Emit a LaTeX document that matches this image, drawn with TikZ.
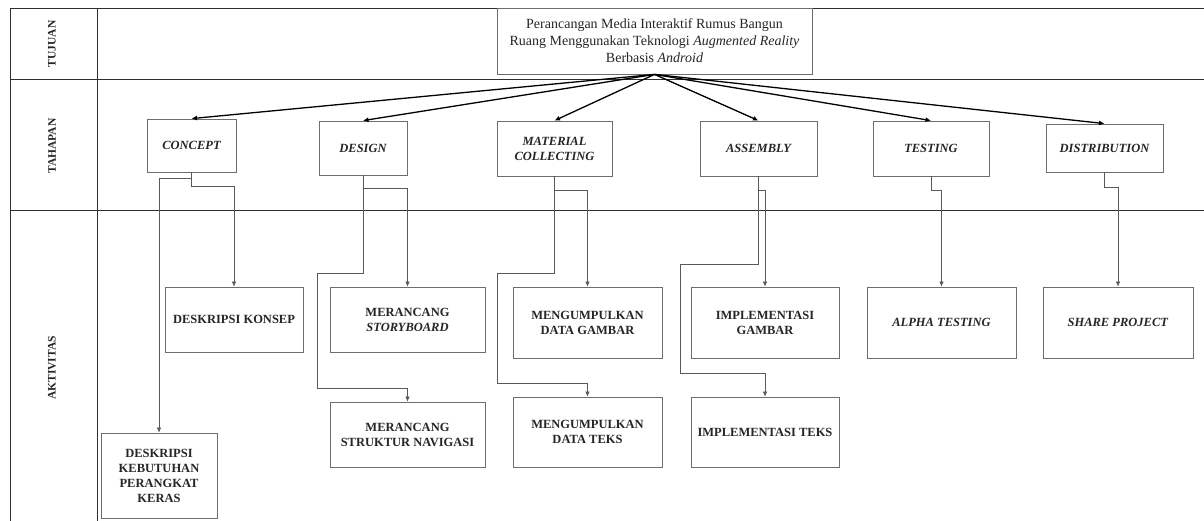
\documentclass[tikz,border=0pt]{standalone}
\usepackage{fontspec}
\setmainfont{Liberation Serif}
\usetikzlibrary{arrows.meta}
\definecolor{boxgray}{HTML}{6E6E6E}
\definecolor{framegray}{HTML}{2E2E2E}
\definecolor{txt}{HTML}{262626}
\begin{document}
\begin{tikzpicture}[x=1pt,y=-1pt,
  box/.style={draw=boxgray, line width=0.8pt, align=center, inner sep=2pt,
    font=\fontsize{12.5}{15}\selectfont\bfseries, text=txt},
  stagebox/.style={box, font=\fontsize{12.5}{15}\selectfont\bfseries\itshape},
  goalbox/.style={box, font=\fontsize{14}{17}\selectfont, text=txt},
  lanelabel/.style={rotate=90, font=\fontsize{11.5}{14}\selectfont\bfseries, text=txt},
  frame/.style={draw=framegray, line width=0.8pt},
  goalarrow/.style={draw=black, line width=1.3pt, -{Latex[length=5.5pt,width=5pt]}},
  conn/.style={draw=black!65, line width=0.6pt, -{Latex[length=5pt,width=4.5pt]}}
]
\useasboundingbox (0,0) rectangle (1204,521);
\fill[white] (0,0) rectangle (1204,521);

% frame
\draw[frame] (1204,8) -- (10,8) -- (10,521);
\draw[frame] (97,8) -- (97,521);
\draw[frame] (10,79) -- (1204,79);
\draw[frame] (10,210) -- (1204,210);

% lane labels
\node[lanelabel] (tujuan) at (52,44) {TUJUAN};
\node[lanelabel] (tahapan) at (52,146) {TAHAPAN};
\node[lanelabel] (aktivitas) at (52,368) {AKTIVITAS};

% goal
\node[goalbox, minimum width=315pt, minimum height=66pt] (goal) at (654.5,41)
  {Perancangan Media Interaktif Rumus Bangun\\
   Ruang Menggunakan Teknologi \textit{Augmented Reality}\\
   Berbasis \textit{Android}};

% stages
\node[stagebox, minimum width=89pt, minimum height=53pt] (concept) at (191.5,145.5) {CONCEPT};
\node[stagebox, minimum width=88pt, minimum height=54pt] (design) at (363,148) {DESIGN};
\node[stagebox, minimum width=115pt, minimum height=55pt] (material) at (554.5,148.5) {MATERIAL\\COLLECTING};
\node[stagebox, minimum width=117pt, minimum height=55pt] (assembly) at (758.5,148.5) {ASSEMBLY};
\node[stagebox, minimum width=116pt, minimum height=55pt] (testing) at (931,148.5) {TESTING};
\node[stagebox, minimum width=117pt, minimum height=48pt] (distribution) at (1104.5,148) {DISTRIBUTION};

% activities
\node[box, minimum width=138pt, minimum height=65pt] (konsep) at (234,319.5) {DESKRIPSI KONSEP};
\node[box, minimum width=116pt, minimum height=85pt] (kebutuhan) at (159,475.5) {DESKRIPSI\\KEBUTUHAN\\PERANGKAT\\KERAS};
\node[box, minimum width=155pt, minimum height=65pt] (storyboard) at (407.5,319.5) {MERANCANG\\\textit{STORYBOARD}};
\node[box, minimum width=155pt, minimum height=65pt] (struktur) at (407.5,434.5) {MERANCANG\\STRUKTUR NAVIGASI};
\node[box, minimum width=149pt, minimum height=71pt] (gambar) at (587.5,322.5) {MENGUMPULKAN\\DATA GAMBAR};
\node[box, minimum width=149pt, minimum height=70pt] (teks) at (587.5,432) {MENGUMPULKAN\\DATA TEKS};
\node[box, minimum width=148pt, minimum height=71pt] (impgambar) at (765,322.5) {IMPLEMENTASI\\GAMBAR};
\node[box, minimum width=148pt, minimum height=70pt] (impteks) at (765,432) {IMPLEMENTASI TEKS};
\node[box, minimum width=149pt, minimum height=71pt] (alpha) at (941.5,322.5) {\textit{ALPHA TESTING}};
\node[box, minimum width=150pt, minimum height=71pt] (share) at (1118,322.5) {\textit{SHARE PROJECT}};

% goal arrows
\foreach \s in {concept,design,material,assembly,testing,distribution}
  \draw[goalarrow] (goal.south) -- (\s.north);

% connectors
\draw[conn] (concept.south) -- ++(0,6) -| (kebutuhan.north);
\draw[conn] (concept.south) -- ++(0,14) -| (konsep.north);
\draw[conn] (design.south) -- ++(0,13) -| (storyboard.north);
\draw[conn] (design.south) -- ++(0,98) -| (317,388) -| (struktur.north);
\draw[conn] (material.south) -- ++(0,14) -| (gambar.north);
\draw[conn] (material.south) -- ++(0,97) -| (497,383) -| (teks.north);
\draw[conn] (assembly.south) -- ++(0,14) -| (impgambar.north);
\draw[conn] (assembly.south) -- ++(0,88) -| (680,373) -| (impteks.north);
\draw[conn] (testing.south) -- ++(0,14) -| (alpha.north);
\draw[conn] (distribution.south) -- ++(0,15) -| (share.north);
\end{tikzpicture}
\end{document}
